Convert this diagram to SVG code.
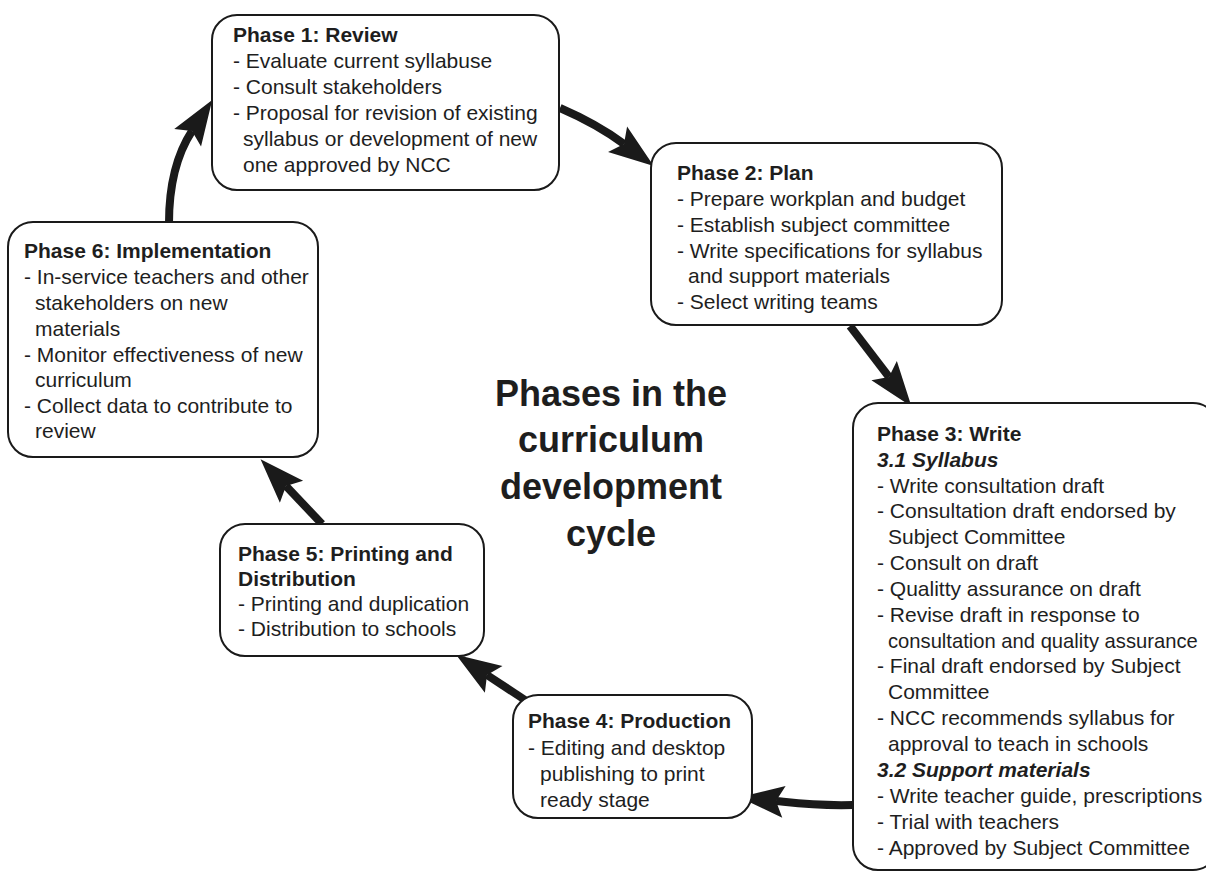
<svg xmlns="http://www.w3.org/2000/svg" width="1206" height="871" viewBox="0 0 1206 871">
<defs>
<marker id="ah" markerUnits="userSpaceOnUse" markerWidth="50" markerHeight="40" viewBox="0 -20 50 40" refX="8" refY="0" orient="auto" overflow="visible">
<path d="M0,-16 L45,0 L0,16 L8,0 Z" fill="#1a1a1a"/>
</marker>
</defs>
<style>
.box{fill:#fff;stroke:#1a1a1a;stroke-width:2}
.t{font-family:"Liberation Sans",Arial,sans-serif;font-size:21px;fill:#1e1e1e}
.b{font-weight:bold}
.bi{font-weight:bold;font-style:italic}
.conn{fill:none;stroke:#1a1a1a;stroke-width:8;marker-end:url(#ah)}
.title{font-family:"Liberation Sans",Arial,sans-serif;font-size:36px;font-weight:bold;fill:#1e1e1e;text-anchor:middle}
</style>
<rect width="1206" height="871" fill="#fff"/>
<g id="connectors">
<path class="conn" d="M169,223 C169,182 177,154 192,131"/>
<path class="conn" d="M560,108 Q597,124 624,144"/>
<path class="conn" d="M850,326 L889,377"/>
<path class="conn" d="M853,805 C815,806 795,803 776,801"/>
<path class="conn" d="M525,700 L487,675"/>
<path class="conn" d="M322,524 L286,486"/>
</g>
<g id="phase1">
<rect class="box" x="212" y="15" width="347" height="175" rx="25"/>
<text class="t b" x="233" y="42">Phase 1: Review</text>
<text class="t" x="233" y="68">- Evaluate current syllabuse</text>
<text class="t" x="233" y="94">- Consult stakeholders</text>
<text class="t" x="233" y="120">- Proposal for revision of existing</text>
<text class="t" x="243" y="146">syllabus or development of new</text>
<text class="t" x="243" y="172">one approved by NCC</text>
</g>
<g id="phase2">
<rect class="box" x="651" y="143" width="351" height="182" rx="25"/>
<text class="t b" x="677" y="180">Phase 2: Plan</text>
<text class="t" x="677" y="206">- Prepare workplan and budget</text>
<text class="t" x="677" y="232">- Establish subject committee</text>
<text class="t" x="677" y="258">- Write specifications for syllabus</text>
<text class="t" x="688" y="283">and support materials</text>
<text class="t" x="677" y="309">- Select writing teams</text>
</g>
<g id="phase3">
<rect class="box" x="853" y="403" width="365" height="467" rx="25"/>
<text class="t b" x="877" y="441">Phase 3: Write</text>
<text class="t bi" x="877" y="467">3.1 Syllabus</text>
<text class="t" x="877" y="493">- Write consultation draft</text>
<text class="t" x="877" y="518">- Consultation draft endorsed by</text>
<text class="t" x="888" y="544">Subject Committee</text>
<text class="t" x="877" y="570">- Consult on draft</text>
<text class="t" x="877" y="596">- Qualitty assurance on draft</text>
<text class="t" x="877" y="622">- Revise draft in response to</text>
<text class="t" x="888" y="648" style="font-size:20.2px">consultation and quality assurance</text>
<text class="t" x="877" y="673">- Final draft endorsed by Subject</text>
<text class="t" x="888" y="699">Committee</text>
<text class="t" x="877" y="725">- NCC recommends syllabus for</text>
<text class="t" x="888" y="751">approval to teach in schools</text>
<text class="t bi" x="877" y="777">3.2 Support materials</text>
<text class="t" x="877" y="803">- Write teacher guide, prescriptions</text>
<text class="t" x="877" y="829">- Trial with teachers</text>
<text class="t" x="877" y="855">- Approved by Subject Committee</text>
</g>
<g id="phase4">
<rect class="box" x="513" y="695" width="239" height="123" rx="25"/>
<text class="t b" x="528" y="728">Phase 4: Production</text>
<text class="t" x="528" y="755">- Editing and desktop</text>
<text class="t" x="540" y="781">publishing to print</text>
<text class="t" x="540" y="807">ready stage</text>
</g>
<g id="phase5">
<rect class="box" x="220" y="524" width="264" height="132" rx="25"/>
<text class="t b" x="238" y="561">Phase 5: Printing and</text>
<text class="t b" x="238" y="586">Distribution</text>
<text class="t" x="238" y="611">- Printing and duplication</text>
<text class="t" x="238" y="636">- Distribution to schools</text>
</g>
<g id="phase6">
<rect class="box" x="8" y="222" width="310" height="235" rx="25"/>
<text class="t b" x="24" y="258">Phase 6: Implementation</text>
<text class="t" x="24" y="284">- In-service teachers and other</text>
<text class="t" x="35" y="310">stakeholders on new</text>
<text class="t" x="35" y="336">materials</text>
<text class="t" x="24" y="362">- Monitor effectiveness of new</text>
<text class="t" x="35" y="387">curriculum</text>
<text class="t" x="24" y="413">- Collect data to contribute to</text>
<text class="t" x="35" y="438">review</text>
</g>
<g id="title">
<text class="title" x="611" y="406">Phases in the</text>
<text class="title" x="611" y="452">curriculum</text>
<text class="title" x="611" y="499">development</text>
<text class="title" x="611" y="546">cycle</text>
</g>
</svg>
